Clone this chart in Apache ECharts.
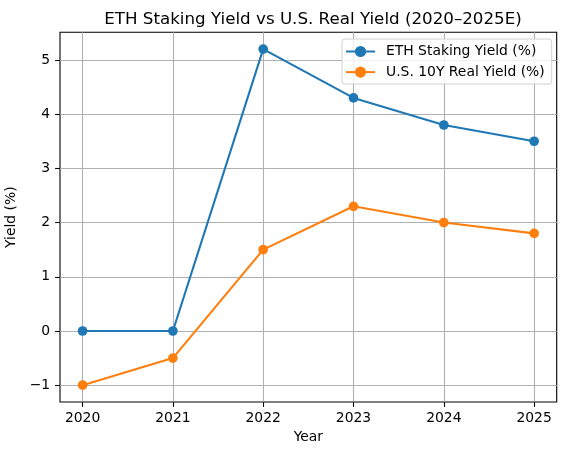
<!DOCTYPE html>
<html>
<head>
<meta charset="utf-8">
<script src="https://cdn.jsdelivr.net/npm/echarts@6/dist/echarts.min.js"></script>
<style>
html,body{margin:0;padding:0;background:#fff;}
#c{width:565px;height:455px;}
</style>
</head>
<body>
<div id="c"></div>
<script>
const years = [2020, 2021, 2022, 2023, 2024, 2025];
const ethYield = [0, 0, 5.2, 4.3, 3.8, 3.5];
const realYield = [-1, -0.5, 1.5, 2.3, 2.0, 1.8];
const xTicks = [2020, 2021, 2022, 2023, 2024, 2025];
const yTicks = [-1, 0, 1, 2, 3, 4, 5];
const seriesNames = ['ETH Staking Yield (%)', 'U.S. 10Y Real Yield (%)'];
const titleText = 'ETH Staking Yield vs U.S. Real Yield (2020\u20132025E)';

const font = 'DejaVu Sans';
const chart = echarts.init(document.getElementById('c'), null, {renderer: 'canvas'});
const fmt = v => (v < 0 ? '\u2212' + Math.abs(v) : String(v));

chart.setOption({
  backgroundColor: '#fff',
  animation: false,
  textStyle: {fontFamily: font},
  title: {
    text: titleText,
    left: 308, top: 6,
    textAlign: 'center',
    textStyle: {fontFamily: font, fontSize: 16.7, fontWeight: 'normal', color: '#000'}
  },
  grid: {
    left: 60, right: 8.3, top: 32.3, bottom: 53,
    containLabel: false, outerBoundsMode: 'none',
    show: true, borderColor: '#000', borderWidth: 1.1, backgroundColor: 'transparent'
  },
  legend: {
    orient: 'vertical',
    left: 342, top: 39,
    padding: [5.5, 7, 5, 3],
    itemWidth: 29, itemHeight: 14, itemGap: 6.6,
    backgroundColor: 'rgba(255,255,255,0.8)',
    borderColor: '#d0d0d0', borderWidth: 1, borderRadius: 3,
    textStyle: {fontFamily: font, fontSize: 13.9, color: '#000', padding: [0, 0, 0, 6]},
    data: seriesNames
  },
  xAxis: {
    type: 'value', min: 2019.75, max: 2025.25,
    name: 'Year', nameLocation: 'middle', nameGap: 28,
    nameTextStyle: {fontFamily: font, fontSize: 13.9, color: '#000'},
    axisLine: {show: false, onZero: false},
    axisTick: {show: true, length: 4.9, lineStyle: {color: '#000', width: 1.1}, customValues: xTicks},
    axisLabel: {fontFamily: font, fontSize: 13.9, color: '#000', margin: 9.8, customValues: xTicks, formatter: v => String(v)},
    splitLine: {show: true, lineStyle: {color: '#b0b0b0', width: 1.1}}
  },
  yAxis: {
    type: 'value', min: -1.31, max: 5.51,
    name: 'Yield (%)', nameLocation: 'middle', nameGap: 38, nameRotate: 90,
    nameTextStyle: {fontFamily: font, fontSize: 13.9, color: '#000'},
    axisLine: {show: false, onZero: false},
    axisTick: {show: true, length: 4.9, lineStyle: {color: '#000', width: 1.1}, customValues: yTicks},
    axisLabel: {fontFamily: font, fontSize: 13.9, color: '#000', margin: 9.8, customValues: yTicks, formatter: fmt},
    splitLine: {show: true, lineStyle: {color: '#b0b0b0', width: 1.1}}
  },
  series: [
    {
      name: seriesNames[0], type: 'line',
      data: years.map((y, i) => [y, ethYield[i]]),
      symbol: 'circle', symbolSize: 9.7, showSymbol: true,
      lineStyle: {color: '#1f77b4', width: 2.1},
      itemStyle: {color: '#1f77b4'}
    },
    {
      name: seriesNames[1], type: 'line',
      data: years.map((y, i) => [y, realYield[i]]),
      symbol: 'circle', symbolSize: 9.7, showSymbol: true,
      lineStyle: {color: '#ff7f0e', width: 2.1},
      itemStyle: {color: '#ff7f0e'}
    }
  ]
});
</script>
</body>
</html>
